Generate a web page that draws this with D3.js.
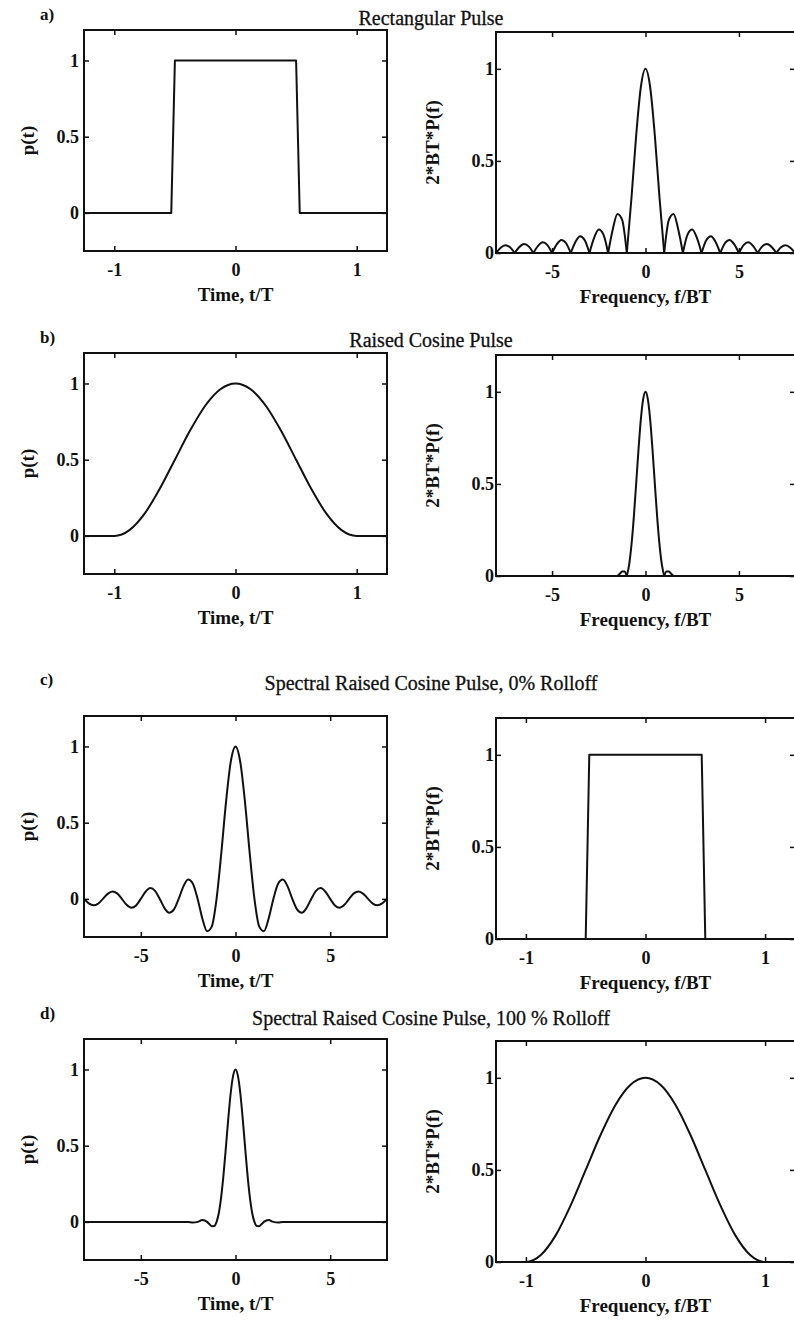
<!DOCTYPE html>
<html>
<head>
<meta charset="utf-8">
<script src="https://cdn.jsdelivr.net/npm/d3@7"></script>
<style>
  body { margin: 0; background: #fff; }
  text { font-family: "Liberation Serif", "Times New Roman", serif; fill: #111; }
</style>
</head>
<body>
<svg id="chart" width="794" height="1326"></svg>
<script>

// ---- data ----

const rowTitles = [
  'Rectangular Pulse',
  'Raised Cosine Pulse',
  'Spectral Raised Cosine Pulse, 0% Rolloff',
  'Spectral Raised Cosine Pulse, 100 % Rolloff'
];
const rowLabels = ['a)', 'b)', 'c)', 'd)'];

const timeLabel = 'Time, t/T';
const freqLabel = 'Frequency, f/BT';
const pulseLabel = 'p(t)';
const specLabel = '2*BT*P(f)';

const shortTicks = [-1, 0, 1];
const longTicks = [-5, 0, 5];
const ampTicks = [0, 0.5, 1];

// a) rectangular pulse and its spectrum
const rectTime = [-1.25, -0.53, -0.5, 0.5, 0.53, 1.25];
const rectPulse = [0, 0, 1, 1, 0, 0];

const sincFreq = [-8, -7.75, -7.5, -7.25, -7, -6.75, -6.5, -6.25, -6, -5.75, -5.5, -5.25, -5,
  -4.75, -4.5, -4.25, -4, -3.75, -3.5, -3.25, -3, -2.75, -2.5, -2.25, -2, -1.75, -1.5, -1.25, -1,
  -0.75, -0.5, -0.25, 0, 0.25, 0.5, 0.75, 1, 1.25, 1.5, 1.75, 2, 2.25, 2.5, 2.75, 3, 3.25, 3.5,
  3.75, 4, 4.25, 4.5, 4.75, 5, 5.25, 5.5, 5.75, 6, 6.25, 6.5, 6.75, 7, 7.25, 7.5, 7.75, 8];
const rectSpectrum = [0, 0.029, 0.042, 0.031, 0, 0.033, 0.049, 0.036, 0, 0.039, 0.058, 0.043, 0,
  0.047, 0.071, 0.053, 0, 0.060, 0.091, 0.069, 0, 0.082, 0.127, 0.100, 0, 0.129, 0.212, 0.180, 0,
  0.300, 0.637, 0.900, 1, 0.900, 0.637, 0.300, 0, 0.180, 0.212, 0.129, 0, 0.100, 0.127, 0.082, 0,
  0.069, 0.091, 0.060, 0, 0.053, 0.071, 0.047, 0, 0.043, 0.058, 0.039, 0, 0.036, 0.049, 0.033, 0,
  0.031, 0.042, 0.029, 0];

// b) raised cosine pulse and its spectrum
const rcTime = [-1.25, -1, -0.875, -0.75, -0.625, -0.5, -0.375, -0.25, -0.125, 0,
  0.125, 0.25, 0.375, 0.5, 0.625, 0.75, 0.875, 1, 1.25];
const rcPulse = [0, 0, 0.038, 0.146, 0.309, 0.5, 0.691, 0.854, 0.962, 1,
  0.962, 0.854, 0.691, 0.5, 0.309, 0.146, 0.038, 0, 0];

const rcFreq = [-8, -1.5, -1.375, -1.25, -1.125, -1, -0.875, -0.75, -0.625, -0.5, -0.375, -0.25,
  -0.125, 0, 0.125, 0.25, 0.375, 0.5, 0.625, 0.75, 0.875, 1, 1.125, 1.25, 1.375, 1.5, 8];
const rcSpectrum = [0, 0, 0.012, 0.024, 0.025, 0, 0.062, 0.170, 0.320, 0.5, 0.686, 0.849,
  0.960, 1, 0.960, 0.849, 0.686, 0.5, 0.320, 0.170, 0.062, 0, 0.025, 0.024, 0.012, 0, 0];

// c) spectral raised cosine, 0% rolloff
const sincTime = sincFreq;
const sincPulse = [0, -0.029, -0.042, -0.031, 0, 0.033, 0.049, 0.036, 0, -0.039, -0.058, -0.043, 0,
  0.047, 0.071, 0.053, 0, -0.060, -0.091, -0.069, 0, 0.082, 0.127, 0.100, 0, -0.129, -0.212, -0.180, 0,
  0.300, 0.637, 0.900, 1, 0.900, 0.637, 0.300, 0, -0.180, -0.212, -0.129, 0, 0.100, 0.127, 0.082, 0,
  -0.069, -0.091, -0.060, 0, 0.053, 0.071, 0.047, 0, -0.043, -0.058, -0.039, 0, 0.036, 0.049, 0.033, 0,
  -0.031, -0.042, -0.029, 0];

const brickFreq = [-1.25, -0.5, -0.47, 0.47, 0.5, 1.25];
const brickSpectrum = [0, 0, 1, 1, 0, 0];

// d) spectral raised cosine, 100% rolloff
const rc100Time = [-8, -4, -2.5, -2.25, -2, -1.75, -1.5, -1.375, -1.25, -1.125, -1,
  -0.875, -0.75, -0.625, -0.5, -0.375, -0.25, -0.125, 0, 0.125, 0.25, 0.375, 0.5, 0.625, 0.75, 0.875,
  1, 1.125, 1.25, 1.375, 1.5, 1.75, 2, 2.25, 2.5, 4, 8];
const rc100Pulse = [0, 0, 0, -0.004, 0, 0.012, 0, -0.015, -0.028, -0.027, 0,
  0.062, 0.170, 0.320, 0.5, 0.686, 0.849, 0.960, 1, 0.960, 0.849, 0.686, 0.5, 0.320, 0.170, 0.062,
  0, -0.027, -0.028, -0.015, 0, 0.012, 0, -0.004, 0, 0, 0];

const rc100Freq = rcTime;
const rc100Spectrum = [0, 0, 0.038, 0.146, 0.309, 0.5, 0.691, 0.854, 0.962, 1,
  0.962, 0.854, 0.691, 0.5, 0.309, 0.146, 0.038, 0, 0];

// ---- layout ----

const rowTop = [30, 353, 716, 1039];
const titleBase = [25, 347, 690, 1025];
const labelBase = [20, 343, 685, 1019];
const panelH = 221;

const panels = [
  { row: 0, left: true,  xs: rectTime,  ys: rectPulse,     xDom: [-1.25, 1.25], ticks: shortTicks, curve: d3.curveLinear },
  { row: 0, left: false, xs: sincFreq,  ys: rectSpectrum,  xDom: [-8, 8],       ticks: longTicks,  curve: d3.curveMonotoneX, cusps: true },
  { row: 1, left: true,  xs: rcTime,    ys: rcPulse,       xDom: [-1.25, 1.25], ticks: shortTicks, curve: d3.curveMonotoneX },
  { row: 1, left: false, xs: rcFreq,    ys: rcSpectrum,    xDom: [-8, 8],       ticks: longTicks,  curve: d3.curveMonotoneX, cusps: true },
  { row: 2, left: true,  xs: sincTime,  ys: sincPulse,     xDom: [-8, 8],       ticks: longTicks,  curve: d3.curveMonotoneX },
  { row: 2, left: false, xs: brickFreq, ys: brickSpectrum, xDom: [-1.25, 1.25], ticks: shortTicks, curve: d3.curveLinear },
  { row: 3, left: true,  xs: rc100Time, ys: rc100Pulse,    xDom: [-8, 8],       ticks: longTicks,  curve: d3.curveMonotoneX },
  { row: 3, left: false, xs: rc100Freq, ys: rc100Spectrum, xDom: [-1.25, 1.25], ticks: shortTicks, curve: d3.curveMonotoneX }
];

const svg = d3.select('#chart');
svg.append('rect').attr('width', 794).attr('height', 1326).attr('fill', '#fff');

function styleAxis(sel) {
  sel.select('.domain').remove();
  sel.selectAll('line').attr('stroke', '#111').attr('stroke-width', 1.5);
  sel.selectAll('text')
    .attr('font-family', '"Liberation Serif", "Times New Roman", serif')
    .attr('font-size', 18)
    .attr('font-weight', 'bold')
    .attr('fill', '#111');
}

function drawPanel(p) {
  const x0 = p.left ? 84 : 496;
  const w = p.left ? 303 : 299;
  const y0 = rowTop[p.row] + (p.left ? 0 : 2);
  const h = panelH;

  const x = d3.scaleLinear().domain(p.xDom).range([0, w]);
  const y = d3.scaleLinear().domain(p.left ? [-0.25, 1.2] : [0, 1.2]).range([h, 0]);

  const g = svg.append('g').attr('transform', `translate(${x0},${y0})`);
  const fmt = d => String(d);

  g.append('g')
    .attr('transform', `translate(0,${h})`)
    .call(d3.axisBottom(x).tickValues(p.ticks).tickSize(-5).tickPadding(12).tickFormat(fmt))
    .call(styleAxis);
  g.append('g')
    .call(d3.axisTop(x).tickValues(p.ticks).tickSize(-5).tickFormat(''))
    .call(styleAxis);
  g.append('g')
    .call(d3.axisLeft(y).tickValues(ampTicks).tickSize(-5).tickPadding(p.left ? 5 : 2).tickFormat(fmt))
    .call(styleAxis);
  g.append('g')
    .attr('transform', `translate(${w},0)`)
    .call(d3.axisRight(y).tickValues(ampTicks).tickSize(-5).tickFormat(''))
    .call(styleAxis);

  g.append('rect')
    .attr('width', w).attr('height', h)
    .attr('fill', 'none').attr('stroke', '#111').attr('stroke-width', 2);

  // curve, split at zeros where the spectrum has cusps
  const pts = p.xs.map((v, i) => [v, p.ys[i]]);
  let segs = [pts];
  if (p.cusps) {
    segs = [];
    let cur = [];
    pts.forEach((pt, i) => {
      cur.push(pt);
      if (pt[1] === 0 && i > 0 && i < pts.length - 1) {
        segs.push(cur);
        cur = [pt];
      }
    });
    segs.push(cur);
  }
  const line = d3.line().x(d => x(d[0])).y(d => y(d[1])).curve(p.curve);
  g.append('g')
    .selectAll('path')
    .data(segs)
    .enter()
    .append('path')
      .attr('d', line)
      .attr('fill', 'none')
      .attr('stroke', '#111')
      .attr('stroke-width', 2)
      .attr('stroke-linejoin', 'round');

  // axis titles
  g.append('text')
    .attr('x', w / 2).attr('y', h + 50)
    .attr('text-anchor', 'middle')
    .attr('font-size', 19).attr('font-weight', 'bold')
    .text(p.left ? timeLabel : freqLabel);
  g.append('text')
    .attr('transform', `translate(${p.left ? 27 - x0 : 432 - x0},${h / 2}) rotate(-90)`)
    .attr('text-anchor', 'middle')
    .attr('dy', '0.35em')
    .attr('font-size', 19).attr('font-weight', 'bold')
    .text(p.left ? pulseLabel : specLabel);
}

panels.forEach(drawPanel);

// row labels and titles
rowTitles.forEach((t, i) => {
  svg.append('text')
    .attr('x', 431).attr('y', titleBase[i])
    .attr('text-anchor', 'middle')
    .attr('font-size', 20)
    .attr('stroke', '#111').attr('stroke-width', 0.3)
    .text(t);
  svg.append('text')
    .attr('x', 40).attr('y', labelBase[i])
    .attr('font-size', 17).attr('font-weight', 'bold')
    .text(rowLabels[i]);
});

</script>
</body>
</html>
